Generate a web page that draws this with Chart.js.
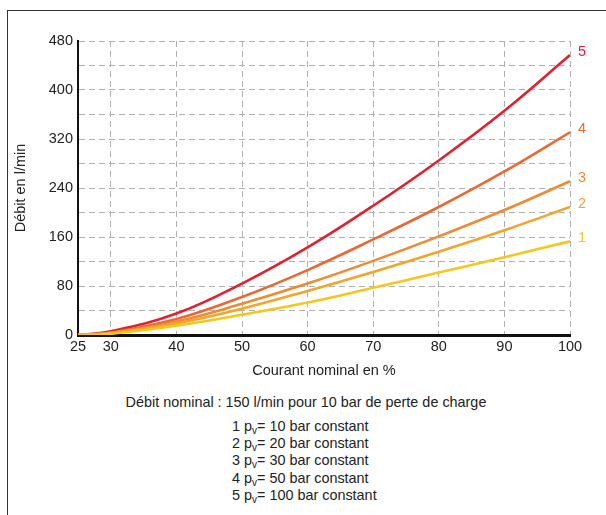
<!DOCTYPE html>
<html>
<head>
<meta charset="utf-8">
<script src="https://cdn.jsdelivr.net/npm/chart.js@4"></script>
<style>
  html, body { margin: 0; padding: 0; background: #fff; overflow: hidden; }
  body { width: 606px; height: 515px; position: relative; font-family: "Liberation Sans", Arial, sans-serif; color: #222; }
  #cadre { position: absolute; left: 7px; top: 10px; width: 700px; height: 600px; border-left: 1px solid #333; border-top: 1px solid #333; }
  #zone { position: absolute; left: 0; top: 0; width: 606px; height: 390px; }
  #nominal { position: absolute; left: 0; width: 612px; top: 394px; text-align: center; font-size: 14.4px; }
  #liste { position: absolute; left: 232px; top: 418px; font-size: 14.4px; line-height: 17.2px; }
  sub { font-size: 10px; line-height: 0; vertical-align: -3px; }
</style>
</head>
<body>
<div id="cadre"></div>
<div id="zone"><canvas id="graphique"></canvas></div>
<div id="nominal">Débit nominal : 150 l/min pour 10 bar de perte de charge</div>
<div id="liste">
  1 p<sub>v</sub>= 10 bar constant<br>
  2 p<sub>v</sub>= 20 bar constant<br>
  3 p<sub>v</sub>= 30 bar constant<br>
  4 p<sub>v</sub>= 50 bar constant<br>
  5 p<sub>v</sub>= 100 bar constant
</div>
<script>
// courant nominal en % (axe x)
var courant = [25, 30, 40, 50, 60, 70, 80, 90, 100];
var ticksX = [25, 30, 40, 50, 60, 70, 80, 90, 100];

// debit en l/min pour chaque courbe
var courbe1 = [0, 2, 15, 33, 53, 77, 102, 127, 153];
var courbe2 = [0, 3, 19, 43, 72, 103, 136, 171, 209];
var courbe3 = [0, 3, 22, 51, 84, 121, 161, 204, 251];
var courbe4 = [0, 4, 26, 62, 106, 156, 209, 267, 331];
var courbe5 = [0, 6, 35, 84, 143, 211, 285, 366, 457];

var etiquettes = ['1', '2', '3', '4', '5'];
var couleurs = ['#f6c61c', '#f3a42a', '#ef8a30', '#ea6832', '#e2202e'];

var police = '"Liberation Sans", Arial, sans-serif';

function points(valeurs) {
    var res = [];
    for (var i = 0; i < courant.length; i++) {
        res.push({ x: courant[i], y: valeurs[i] });
    }
    return res;
}

var series = [courbe1, courbe2, courbe3, courbe4, courbe5];
var datasets = [];
for (var i = 0; i < series.length; i++) {
    datasets.push({
        label: etiquettes[i],
        data: points(series[i]),
        borderColor: couleurs[i],
        borderWidth: 2.6,
        pointRadius: 0,
        fill: false,
        tension: 0.4
    });
}

// numero de la courbe ecrit au bout de chaque ligne
var numeros = {
    id: 'numeros',
    afterDatasetsDraw: function (chart) {
        var ctx = chart.ctx;
        ctx.save();
        ctx.font = '14.5px ' + police;
        ctx.textAlign = 'left';
        ctx.textBaseline = 'middle';
        chart.data.datasets.forEach(function (ds, i) {
            var meta = chart.getDatasetMeta(i);
            var dernier = meta.data[meta.data.length - 1];
            ctx.fillStyle = couleurs[i];
            ctx.fillText(ds.label, dernier.x + 8, dernier.y - 3);
        });
        ctx.restore();
    }
};

var ctx = document.getElementById('graphique');
var chart = new Chart(ctx, {
    type: 'line',
    data: { datasets: datasets },
    options: {
        responsive: true,
        maintainAspectRatio: false,
        animation: false,
        layout: { padding: { top: 41, right: 36, left: 0, bottom: 10 } },
        plugins: { legend: { display: false }, tooltip: { enabled: false } },
        scales: {
            x: {
                type: 'linear',
                min: 25,
                max: 100,
                afterBuildTicks: function (scale) {
                    scale.ticks = ticksX.map(function (v) { return { value: v }; });
                },
                afterFit: function (scale) { scale.height = 45; },
                grid: {
                    color: function (c) { return c.tick && c.tick.value === 25 ? 'rgba(0,0,0,0)' : '#b0b0b0'; },
                    lineWidth: 1,
                    drawTicks: false
                },
                border: { display: true, color: '#111', width: 3, dash: [6, 4] },
                ticks: {
                    color: '#222',
                    padding: 3,
                    maxRotation: 0,
                    autoSkip: false,
                    font: { family: police, size: 14.5 }
                },
                title: {
                    display: true,
                    text: 'Courant nominal en %',
                    color: '#222',
                    padding: { top: 4, bottom: 0 },
                    font: { family: police, size: 14.5 }
                }
            },
            y: {
                min: 0,
                max: 480,
                afterFit: function (scale) { scale.width = 78; },
                grid: {
                    color: function (c) { return c.tick && c.tick.value === 0 ? 'rgba(0,0,0,0)' : '#b0b0b0'; },
                    lineWidth: 1,
                    drawTicks: false
                },
                border: { display: true, color: '#111', width: 2, dash: [6, 4] },
                ticks: {
                    stepSize: 40,
                    padding: 5,
                    color: '#222',
                    callback: function (v) { return v % 80 === 0 ? v : ''; },
                    font: { family: police, size: 14.5 }
                },
                title: {
                    display: true,
                    text: 'Débit en l/min',
                    color: '#222',
                    padding: { top: 12, bottom: 0 },
                    font: { family: police, size: 14.5 }
                }
            }
        }
    },
    plugins: [numeros]
});
</script>
</body>
</html>
